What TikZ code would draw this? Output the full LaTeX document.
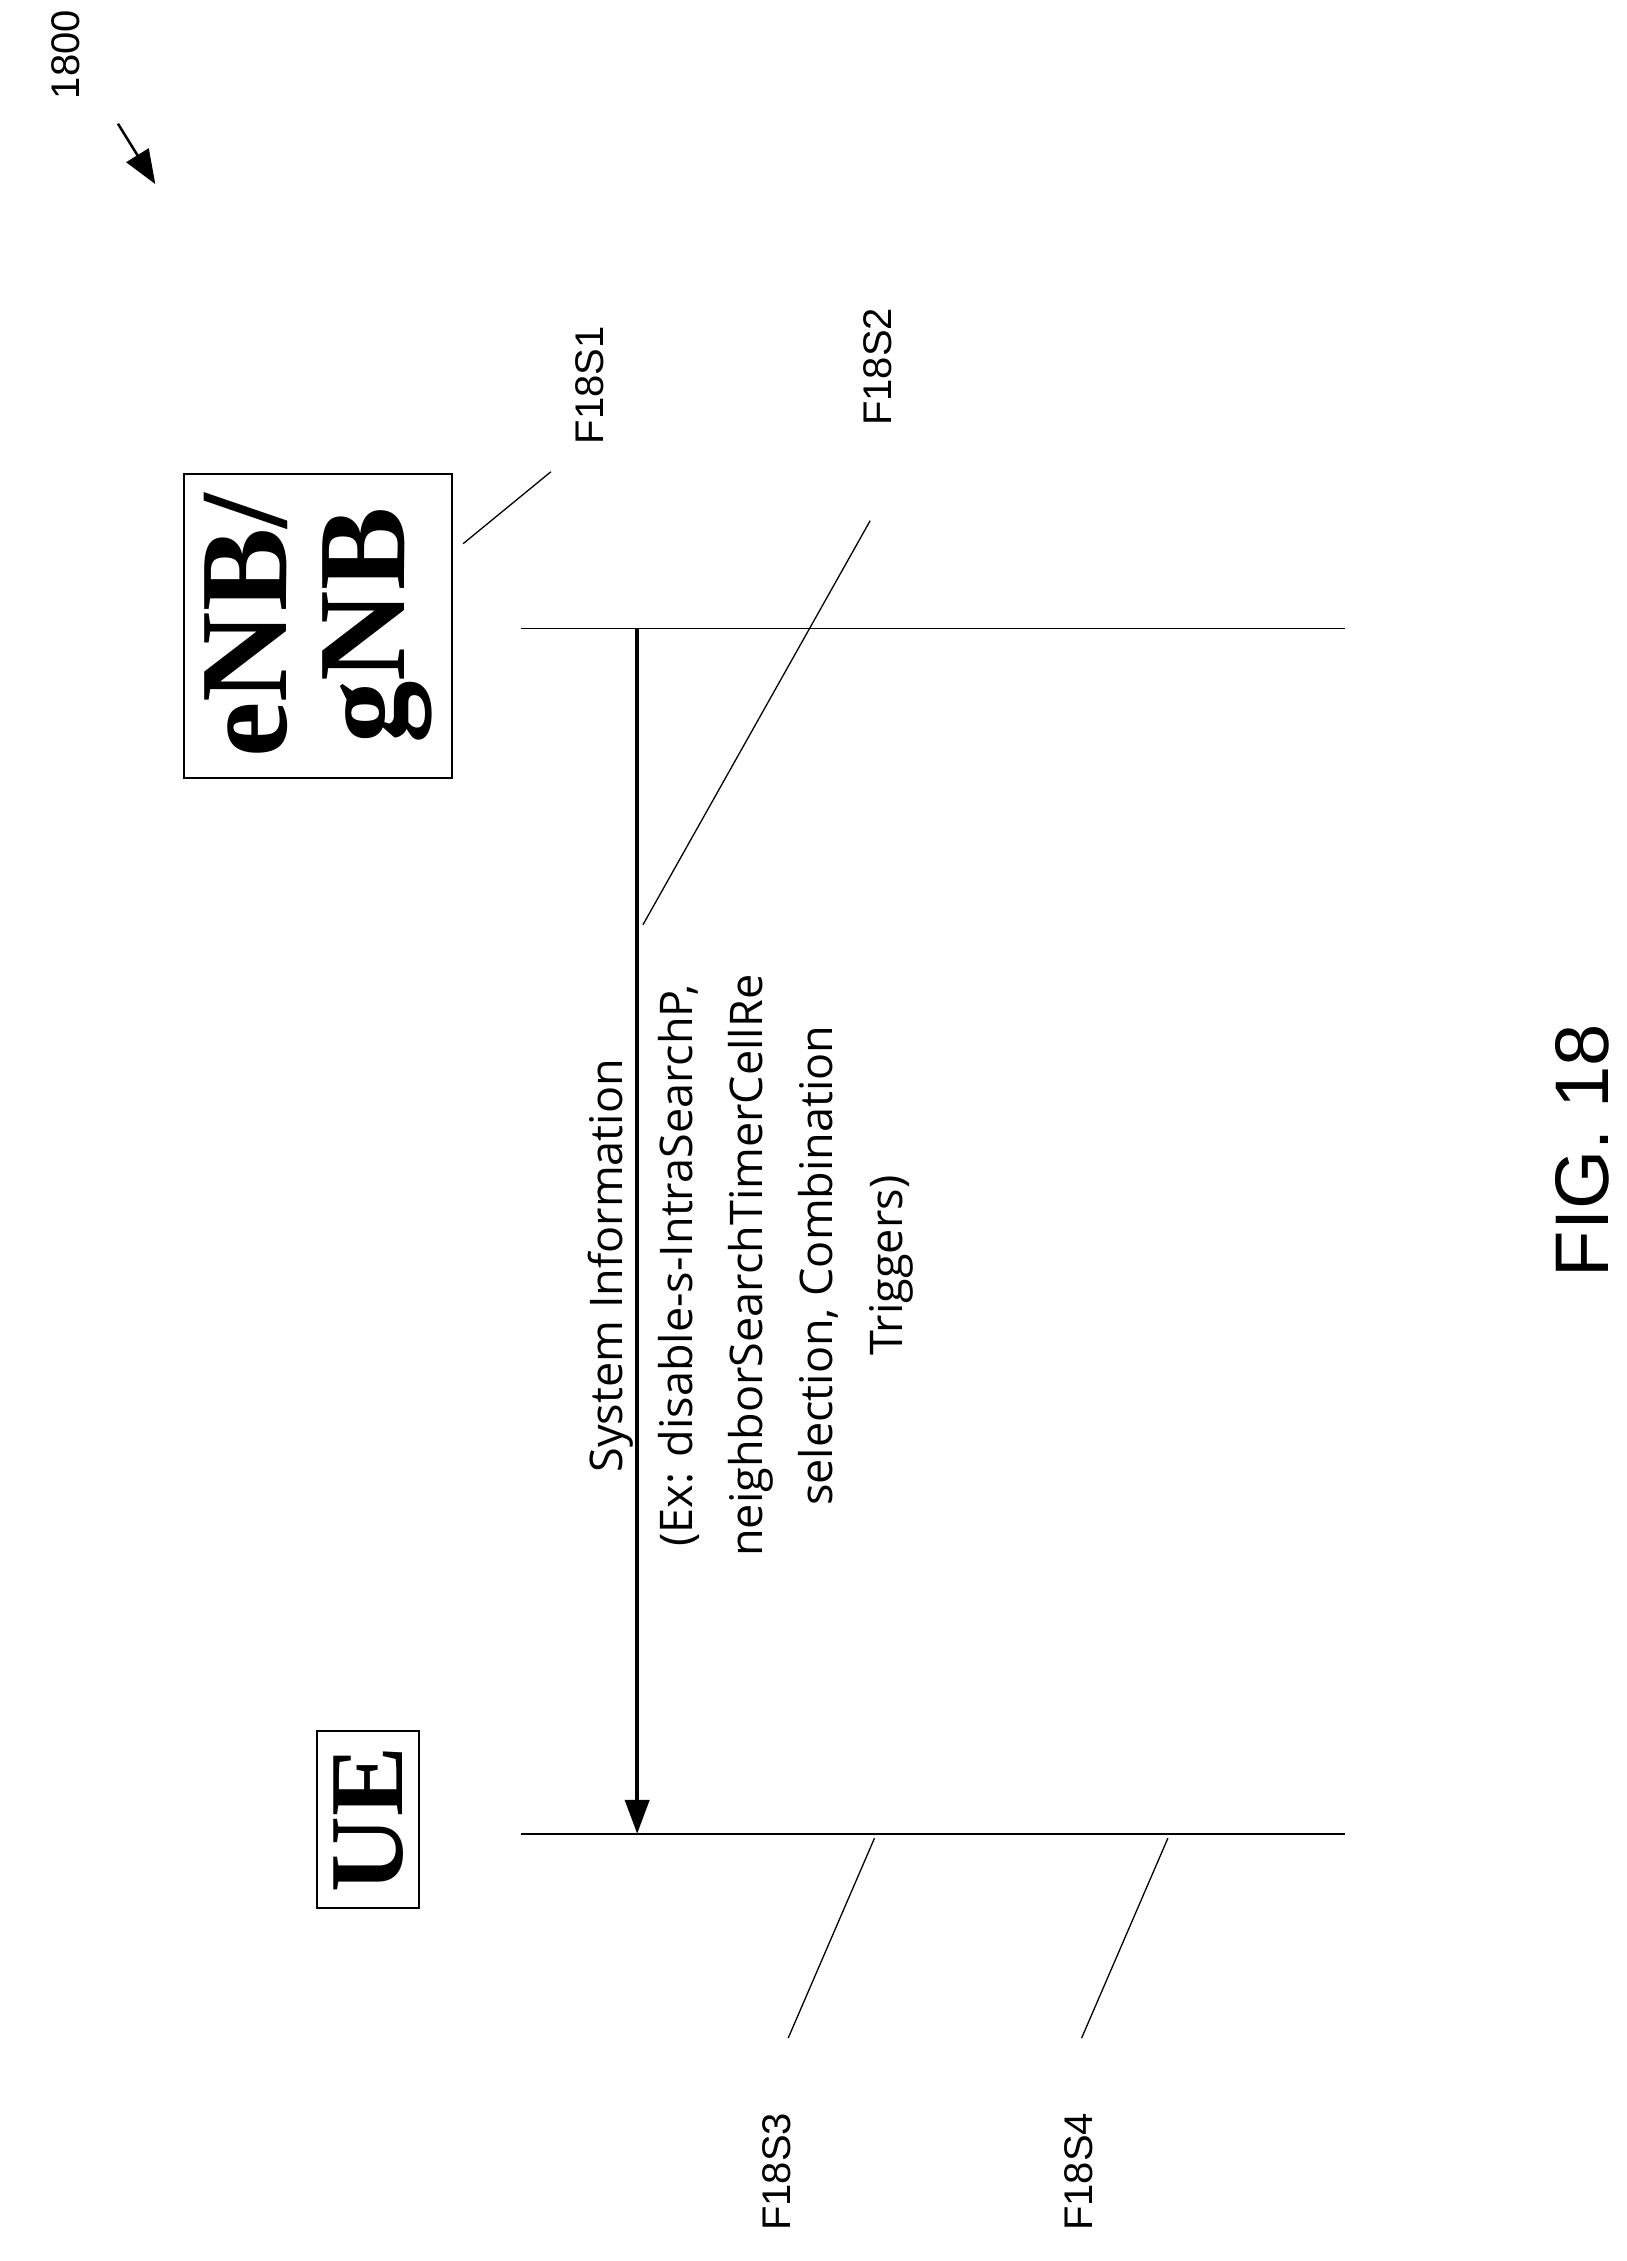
\documentclass[tikz,border=0pt]{standalone}
\usepackage{fontspec}
\setmainfont{Liberation Serif}
\newfontfamily\arialfont{Liberation Sans}
\newfontfamily\labelfont{Open Sans}
\usetikzlibrary{arrows.meta,positioning}
\tikzset{
    entity/.style={draw,line width=2pt,rotate=90,inner sep=16pt,align=center,
        font=\bfseries\fontsize{105}{100}\selectfont},
    ref label/.style={rotate=90,font=\arialfont\fontsize{40}{46}\selectfont},
    lead/.style={line width=1.3pt},
    lifeline/.style={line width=1.3pt},
}
\begin{document}
\begin{tikzpicture}[x=1.4386pt,y=-1.4386pt]
\useasboundingbox (0,0) rectangle (1131,1572);
% entities
\node[entity] (ue) at (256,1265) {UE};
\node[entity,font=\bfseries\fontsize{125}{118}\selectfont,inner sep=20pt] (enb) at (221,435) {eNB/\\gNB};
% lifelines
\coordinate (enbL) at (362,437);
\coordinate (enbR) at (935,437);
\coordinate (ueL) at (362,1275);
\coordinate (ueR) at (935,1275);
\draw[lifeline] (enbL) -- (enbR);
\draw[lifeline] (ueL) -- (ueR);
% message
\coordinate (msgA) at (443,437);
\coordinate (msgB) at (443,1275);
\draw[line width=4pt,-{Triangle[length=34pt,width=24pt]}] (msgA) -- (msgB);
\node[rotate=90,align=center,font=\labelfont\fontsize{45}{70}\selectfont] (msg) at (522,880)
    {System Information\\(Ex: disable-s-IntraSearchP,\\neighborSearchTimerCellRe\\selection, Combination\\Triggers)};
% reference labels
\node[ref label] (s1) at (410,268) {F18S1};
\node[ref label] (s2) at (610,255) {F18S2};
\node[ref label] (s3) at (540,1510) {F18S3};
\node[ref label] (s4) at (750,1510) {F18S4};
\coordinate (s1a) at (322,378); \coordinate (s1b) at (383,328);
\coordinate (s2a) at (447,643); \coordinate (s2b) at (605,362);
\coordinate (s3a) at (548,1417); \coordinate (s3b) at (608,1278);
\coordinate (s4a) at (752,1417); \coordinate (s4b) at (812,1278);
\draw[lead] (s1a) -- (s1b);
\draw[lead] (s2a) -- (s2b);
\draw[lead] (s3a) -- (s3b);
\draw[lead] (s4a) -- (s4b);
% figure number
\node[ref label] (num) at (46,38) {1800};
\coordinate (numA) at (82,86); \coordinate (numB) at (108,128);
\draw[line width=2.5pt,-{Triangle[length=34pt,width=26pt]}] (numA) -- (numB);
\node[rotate=90,font=\arialfont\fontsize{76}{84}\selectfont] (fig) at (1100,800) {FIG. 18};
\end{tikzpicture}
\end{document}
